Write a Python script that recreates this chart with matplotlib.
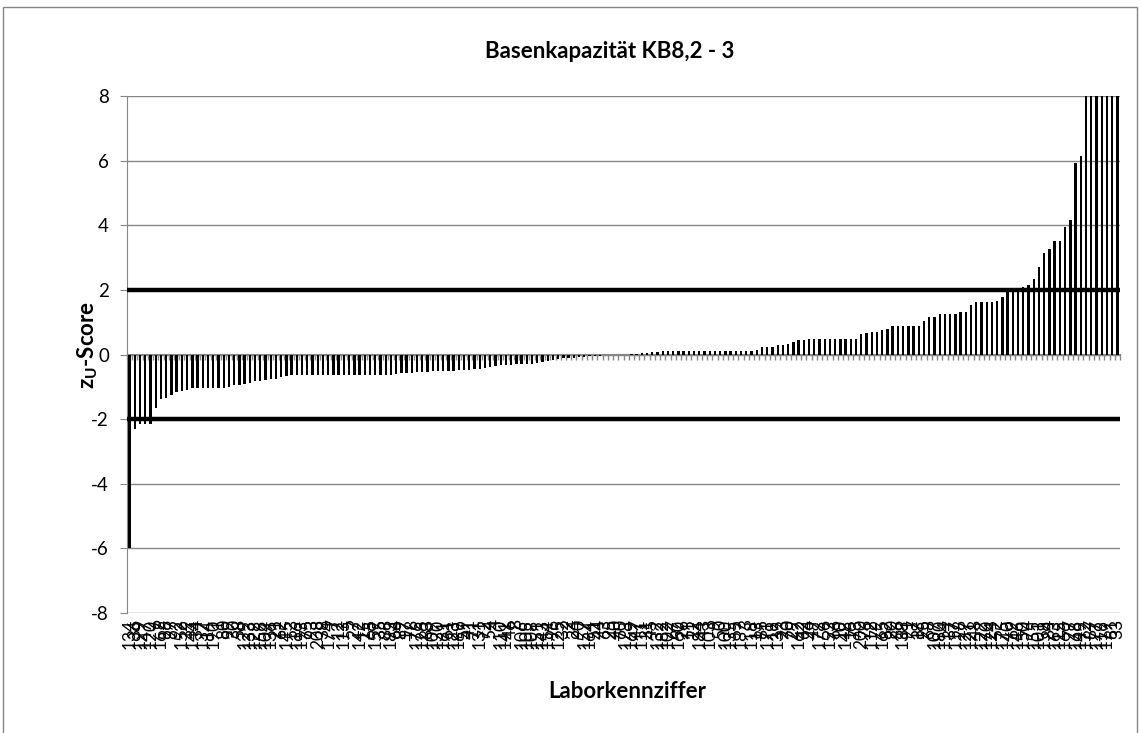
import numpy as np
import matplotlib.pyplot as plt
from matplotlib.patches import Rectangle

plt.rcParams['font.family'] = ['Lato', 'DejaVu Sans']
plt.rcParams['mathtext.fontset'] = 'custom'
plt.rcParams['mathtext.rm'] = 'Lato'
plt.rcParams['mathtext.bf'] = 'Lato:bold'
plt.rcParams['axes.unicode_minus'] = False

title = 'Basenkapazität KB8,2 - 3'

# Laborkennziffer (sorted by z_U-score)
labor = [134, 36, 199, 147, 120, 6, 167, 98, 97, 92, 152, 39, 144, 34, 137, 14, 190, 1, 80,
         99, 30, 58, 129, 133, 128, 156, 104, 136, 21, 62, 145, 53, 116, 193, 75, 93, 208, 38,
         174, 7, 12, 113, 5, 27, 142, 15, 65, 159, 35, 88, 183, 64, 89, 17, 78, 176, 126,
         83, 109, 130, 161, 61, 123, 189, 59, 41, 71, 131, 72, 54, 4, 110, 141, 46, 8, 106,
         105, 108, 151, 143, 154, 96, 125, 32, 2, 24, 90, 157, 164, 51, 44, 63, 25, 40, 60,
         173, 169, 47, 111, 31, 45, 132, 182, 102, 67, 160, 26, 11, 22, 184, 43, 103, 9, 50,
         100, 135, 55, 187, 3, 118, 13, 85, 171, 19, 139, 23, 70, 29, 162, 42, 94, 49, 178,
         56, 153, 66, 10, 148, 16, 73, 200, 76, 112, 79, 165, 82, 20, 86, 138, 91, 57, 18,
         95, 68, 107, 180, 114, 37, 117, 28, 127, 121, 48, 122, 170, 124, 52, 175, 140, 69, 146,
         150, 74, 155, 101, 158, 84, 163, 115, 166, 77, 168, 149, 172, 87, 177, 119, 179, 81, 33]

zu_neg = [-6.0, -2.30, -2.15, -2.15, -2.15, -1.65, -1.39, -1.35, -1.24, -1.17,
          -1.13, -1.11, -1.05, -1.03, -1.03, -1.03, -1.03, -1.03, -1.03, -1.0,
          -0.95, -0.94, -0.91, -0.88, -0.83, -0.83, -0.80, -0.75, -0.75, -0.70,
          -0.67, -0.64, -0.64, -0.64, -0.64, -0.64, -0.64, -0.64, -0.64, -0.64,
          -0.64, -0.64, -0.64, -0.64, -0.64, -0.64, -0.64, -0.64, -0.64, -0.64,
          -0.64, -0.60, -0.57, -0.57, -0.57, -0.54,
          -0.54, -0.53, -0.52, -0.52, -0.51, -0.50, -0.50, -0.48, -0.48, -0.47,
          -0.46, -0.45, -0.42, -0.38, -0.35, -0.33, -0.32, -0.31, -0.30, -0.30,
          -0.29, -0.28, -0.25, -0.22, -0.20, -0.16, -0.14, -0.12, -0.11, -0.10,
          -0.09, -0.08, -0.06, -0.05, -0.04, -0.03, -0.02, -0.02, -0.01, 0.0]
zu_pos = [0.02, 0.03, 0.04, 0.06, 0.08, 0.09, 0.10, 0.10, 0.10, 0.10,
          0.10, 0.10, 0.10, 0.10, 0.10, 0.10, 0.10, 0.10, 0.11, 0.11, 0.11,
          0.12, 0.12, 0.12, 0.15, 0.24, 0.24, 0.24, 0.28, 0.28, 0.31,
          0.38, 0.46, 0.46, 0.49, 0.49, 0.49, 0.49, 0.49, 0.49, 0.49,
          0.49, 0.49, 0.49, 0.62, 0.65, 0.69, 0.69, 0.75, 0.80, 0.87,
          0.87, 0.87, 0.87, 0.87, 0.87, 1.05, 1.16, 1.16, 1.25, 1.25,
          1.25, 1.25, 1.30, 1.33, 1.54, 1.62, 1.62, 1.62, 1.62, 1.66,
          1.77, 1.98, 2.0, 2.0, 2.10, 2.15, 2.34, 2.72, 3.13, 3.26,
          3.51, 3.51, 3.95, 4.17, 5.92, 6.13, 8.5, 9.1, 10.4, 12.0,
          15.3, 21.7, 33.0]
zu = zu_neg + zu_pos

yticks = [-8, -6, -4, -2, 0, 2, 4, 6, 8]
limits = [-2, 2]

grey = '#868686'

fig = plt.figure(figsize=(11.41, 7.33), dpi=100)
ax = fig.add_axes([127 / 1141, 1 - 613 / 733, (1120 - 127) / 1141, (613 - 96) / 733])

x = np.arange(len(labor))
ax.bar(x, zu, width=0.45, color='black', zorder=3)
for lim in limits:
    ax.axhline(lim, color='black', lw=3.2, zorder=4)

ax.set_xlim(-0.5, len(labor) - 0.5)
ax.set_ylim(-8, 8)
ax.set_yticks(yticks)
ax.yaxis.grid(True, color=grey, lw=1)
ax.set_axisbelow(True)
ax.tick_params(axis='y', length=5, color=grey, labelsize=13.5, pad=8)

ax.set_xticks(x)
ax.set_xticklabels(labor, rotation=90, fontsize=12.5)
ax.tick_params(axis='x', length=0, pad=4)

for s in ['top', 'right', 'bottom']:
    ax.spines[s].set_visible(False)
ax.spines['left'].set_color(grey)

# category axis line at zero with tick marks between categories
sec = ax.secondary_xaxis(0.5)
sec.set_xticks(np.arange(len(labor) + 1) - 0.5)
sec.tick_params(direction='in', length=4, color=grey, width=1,
                labeltop=False, labelbottom=False)
for s in sec.spines.values():
    s.set_color(grey)

fig.text(610 / 1141, 1 - 52 / 733, title, ha='center', va='center',
         fontsize=16, fontweight='bold')
fig.text(627 / 1141, 1 - 692 / 733, 'Laborkennziffer', ha='center', va='center',
         fontsize=16, fontweight='bold')
fig.text(88 / 1141, 1 - 345 / 733, r'z$_\mathbf{U}$-Score', ha='center', va='center',
         rotation=90, fontsize=16, fontweight='bold')

fig.add_artist(Rectangle((3 / 1141, -0.01), 1134 / 1141, 1.01 - 7 / 733,
                         transform=fig.transFigure, fill=False, edgecolor=grey, lw=1))

fig.savefig('out.png', dpi=100)
